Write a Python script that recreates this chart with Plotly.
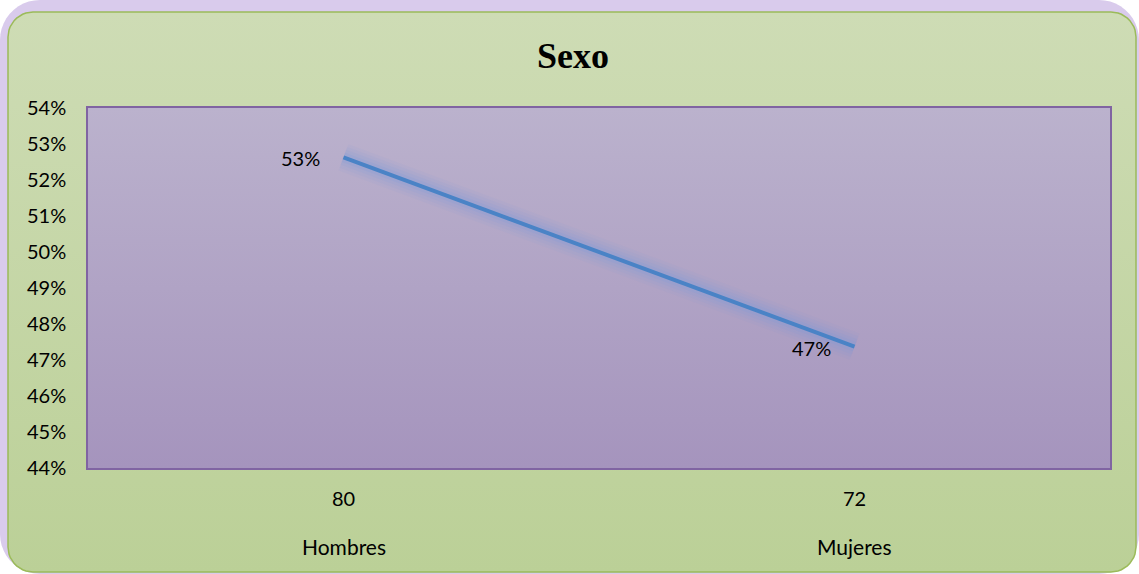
import numpy as np
import plotly.graph_objects as go

# ---- data ----
categories = ["Hombres", "Mujeres"]
counts = ["80", "72"]
percent = [0.5263, 0.4737]
pct_labels = ["53%", "47%"]
y_ticks = [0.44, 0.45, 0.46, 0.47, 0.48, 0.49, 0.50, 0.51, 0.52, 0.53, 0.54]
y_tick_text = ["44%", "45%", "46%", "47%", "48%", "49%", "50%", "51%", "52%", "53%", "54%"]

W, H = 1139, 574
FONT = "Lato, Open Sans, sans-serif"


def rounded_rect(x0, y0, x1, y1, r, n=12):
    """Rounded rectangle in pixel coords (y down) -> returns xs, ys in y-up coords."""
    xs, ys = [], []
    corners = [
        (x1 - r, y0 + r, -np.pi / 2, 0),
        (x1 - r, y1 - r, 0, np.pi / 2),
        (x0 + r, y1 - r, np.pi / 2, np.pi),
        (x0 + r, y0 + r, np.pi, 1.5 * np.pi),
    ]
    for cx, cy, a0, a1 in corners:
        for a in np.linspace(a0, a1, n):
            xs.append(cx + r * np.cos(a))
            ys.append(H - (cy + r * np.sin(a)))
    xs.append(xs[0])
    ys.append(ys[0])
    return xs, ys


fig = go.Figure()

# ---- background decoration (full-figure pixel axes) ----
gx, gy = rounded_rect(0, 0, W, H, 40)
fig.add_trace(go.Scatter(x=gx, y=gy, fill="toself", mode="lines",
                         line=dict(width=0), fillcolor="#d9cbec",
                         hoverinfo="skip", showlegend=False,
                         xaxis="x", yaxis="y"))
bx, by = rounded_rect(8, 12, 1136, 572, 25)
fig.add_trace(go.Scatter(x=bx, y=by, fill="toself", mode="lines",
                         line=dict(width=1.5, color="#9bbb59"),
                         fillgradient=dict(type="vertical",
                                           colorscale=[[0, "#bbd097"], [1, "#cedcb5"]],
                                           start=H - 572, stop=H - 12),
                         hoverinfo="skip", showlegend=False,
                         xaxis="x", yaxis="y"))
px0, px1, py0, py1 = 88, 1110, 108, 468
fig.add_trace(go.Scatter(x=[px0, px1, px1, px0, px0],
                         y=[H - py0, H - py0, H - py1, H - py1, H - py0],
                         fill="toself", mode="lines", line=dict(width=0),
                         fillgradient=dict(type="vertical",
                                           colorscale=[[0, "#a594bd"], [1, "#bbb2cd"]],
                                           start=H - py1, stop=H - py0),
                         hoverinfo="skip", showlegend=False,
                         xaxis="x", yaxis="y"))

# ---- data line with glow ----
for w, op in [(28, 0.07), (22, 0.09), (16, 0.12), (10, 0.18)]:
    fig.add_trace(go.Scatter(x=categories, y=percent, mode="lines",
                             line=dict(color="#7b9bdc", width=w),
                             opacity=op, hoverinfo="skip", showlegend=False,
                             xaxis="x2", yaxis="y2"))
fig.add_trace(go.Scatter(x=categories, y=percent, mode="lines",
                         line=dict(color="#4a83c6", width=4),
                         showlegend=False, xaxis="x2", yaxis="y2"))

annotations = []
for c, p, t in zip(categories, percent, pct_labels):
    annotations.append(dict(x=c, y=p, xref="x2", yref="y2", text=t,
                            showarrow=False, xanchor="right", yanchor="middle",
                            xshift=-22, yshift=-1,
                            font=dict(family=FONT, size=20, color="#000000")))
for c, n in zip(categories, counts):
    annotations.append(dict(x=c, y=1 - 498 / H, xref="x2", yref="paper", text=n,
                            showarrow=False, xanchor="center", yanchor="middle",
                            font=dict(family=FONT, size=20, color="#000000")))
    annotations.append(dict(x=c, y=1 - 546 / H, xref="x2", yref="paper", text=c,
                            showarrow=False, xanchor="center", yanchor="middle",
                            font=dict(family=FONT, size=21, color="#000000")))

fig.update_layout(
    width=W, height=H,
    margin=dict(l=0, r=0, t=0, b=0, autoexpand=False),
    paper_bgcolor="#ffffff",
    plot_bgcolor="rgba(0,0,0,0)",
    title=dict(text="<b>Sexo</b>", x=0.503, xanchor="center",
               y=1 - 55 / H, yanchor="middle",
               font=dict(family="Liberation Serif, Times New Roman, serif",
                         size=36, color="#000000")),
    xaxis=dict(domain=[0, 1], range=[0, W], visible=False, fixedrange=True),
    yaxis=dict(domain=[0, 1], range=[0, H], visible=False, fixedrange=True),
    xaxis2=dict(domain=[px0 / W, px1 / W], anchor="y2", type="category",
                range=[-0.5, 1.5], showticklabels=False, showgrid=False,
                zeroline=False, showline=True, linecolor="#8064a2",
                linewidth=1.5, mirror=True, ticks="", automargin=False),
    yaxis2=dict(domain=[1 - py1 / H, 1 - py0 / H], anchor="x2",
                range=[0.44, 0.54], tickvals=y_ticks, ticktext=y_tick_text,
                showgrid=False, zeroline=False, showline=True,
                linecolor="#8064a2", linewidth=1.5, mirror=True, ticks="",
                ticklabelstandoff=16, automargin=False,
                tickfont=dict(family=FONT, size=20, color="#000000")),
    annotations=annotations,
    showlegend=False,
)

fig.write_html(
    "out.html",
    config={"displayModeBar": False},
    post_script="document.body.style.margin='0';document.body.style.overflow='hidden';",
)
